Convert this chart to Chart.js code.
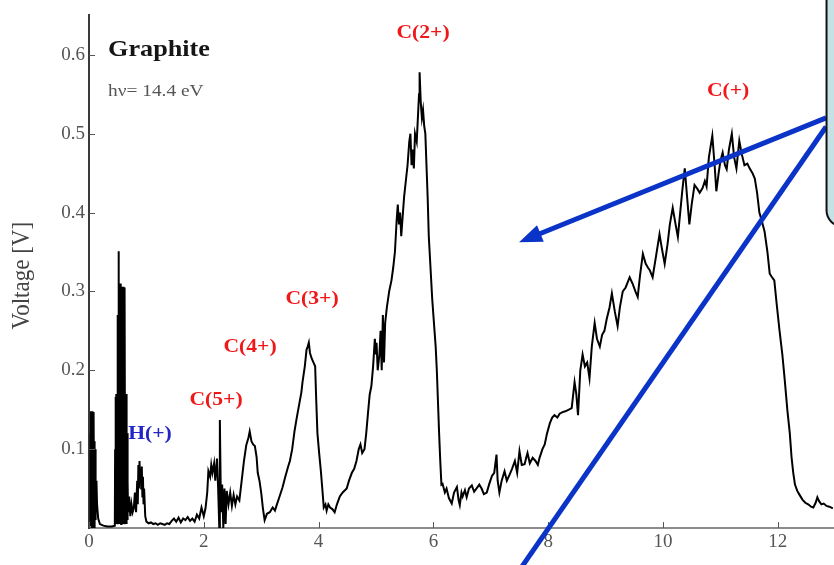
<!DOCTYPE html>
<html>
<head>
<meta charset="utf-8">
<script src="https://cdn.jsdelivr.net/npm/chart.js@4.4.1/dist/chart.umd.min.js"></script>
<style>
html,body{margin:0;padding:0;background:#fff;}
#c{display:block;}
</style>
</head>
<body>
<canvas id="c" width="834" height="565"></canvas>
<script>
// Time of flight (µs) and detector voltage (V)
const tof = [
0.00,0.02,0.025,0.03,0.035,0.04,0.045,0.05,0.055,0.06,0.065,0.07,0.075,0.08,0.085,0.09,0.095,0.10,0.105,0.11,0.115,0.12,0.13,0.14,0.16,0.19,0.25,0.32,0.40,0.45,
0.455,0.46,0.465,0.47,0.475,0.48,0.485,0.49,0.495,0.50,0.505,0.51,0.515,0.52,0.525,0.53,0.535,0.54,0.545,0.55,0.555,0.56,0.565,0.57,0.575,0.58,0.585,0.59,0.595,0.60,0.605,0.61,0.615,0.62,0.625,0.63,0.635,0.64,0.645,0.65,0.655,0.66,0.665,0.67,0.675,0.68,
0.70,0.72,0.74,0.76,0.78,0.80,0.82,0.84,0.85,0.86,0.87,0.88,0.89,0.90,0.91,0.92,0.93,0.94,0.95,0.96,0.98,1.00,
1.04,1.08,1.12,1.16,1.20,1.24,1.28,1.32,1.36,1.40,1.44,1.48,1.52,1.56,1.60,1.64,1.68,1.72,1.76,1.80,1.84,1.88,1.92,1.96,
2.00,2.03,2.06,2.08,2.11,2.13,2.15,2.18,2.20,2.23,2.25,2.27,2.28,2.30,2.32,2.34,2.36,2.38,2.40,2.43,2.46,2.49,2.52,2.55,2.58,2.62,2.66,2.70,2.74,2.78,2.80,2.83,2.86,2.89,2.92,2.94,2.97,
3.00,3.03,3.06,3.10,3.15,3.20,3.24,3.27,3.32,3.37,3.42,3.47,3.50,3.54,3.58,3.62,3.67,3.70,3.72,3.76,3.79,3.81,3.83,3.85,3.88,3.91,3.94,3.96,3.98,
4.01,4.04,4.07,4.09,4.12,4.14,4.17,4.20,4.24,4.28,4.32,4.37,4.42,4.49,4.53,4.58,4.62,4.66,4.70,4.73,4.76,4.80,4.83,4.86,4.89,4.92,4.95,4.98,
5.00,5.01,5.03,5.06,5.08,5.10,5.12,5.14,5.16,5.19,5.23,5.27,5.30,5.33,5.36,5.38,5.40,5.42,5.44,5.46,5.49,5.52,5.55,5.58,5.60,5.62,5.64,5.66,5.68,5.71,5.73,5.75,5.76,5.78,5.80,5.82,5.84,5.86,5.88,5.90,5.92,5.95,5.98,
6.01,6.04,6.06,6.08,6.10,6.12,6.14,6.16,6.20,6.23,6.27,6.32,6.36,6.41,6.44,6.46,6.49,6.51,6.55,6.58,6.62,6.67,6.71,6.75,6.80,6.84,6.88,6.93,6.97,
7.02,7.06,7.10,7.12,7.15,7.19,7.24,7.28,7.33,7.37,7.42,7.46,7.50,7.54,7.59,7.62,7.64,7.68,7.73,7.78,7.82,7.85,7.90,7.94,7.98,
8.03,8.07,8.11,8.16,8.20,8.25,8.30,8.36,8.41,8.46,8.49,8.52,8.56,8.60,8.64,8.68,8.72,8.76,8.81,8.85,8.90,8.94,8.98,
9.02,9.07,9.11,9.16,9.21,9.25,9.30,9.35,9.42,9.47,9.52,9.56,9.60,9.65,9.70,9.74,9.77,9.82,9.88,9.94,9.98,
10.03,10.08,10.12,10.17,10.22,10.26,10.30,10.34,10.38,10.42,10.46,10.50,10.55,10.60,10.64,10.69,10.73,10.76,10.80,10.86,10.90,10.93,10.97,
11.00,11.04,11.08,11.11,11.15,11.20,11.24,11.28,11.33,11.37,11.42,11.47,11.51,11.56,11.60,11.64,11.68,11.72,11.77,11.82,11.86,11.90,11.94,11.98,
12.03,12.08,12.12,12.17,12.21,12.24,12.27,12.30,12.34,12.38,12.43,12.48,12.53,12.58,12.62,12.66,12.69,12.72,12.76,12.80,12.85,12.90,12.96
];
const voltage = [
0.003,0.004,0.12,0.01,0.148,0.0,0.145,0.01,0.13,0.0,0.148,0.02,0.12,0.0,0.147,0.01,0.11,0.0,0.10,0.01,0.10,0.02,0.06,0.03,0.012,0.005,0.003,0.002,0.002,0.003,
0.10,0.005,0.166,0.01,0.17,0.005,0.168,0.01,0.27,0.005,0.268,0.01,0.351,0.005,0.30,0.01,0.31,0.005,0.306,0.01,0.31,0.005,0.306,0.01,0.305,0.005,0.306,0.01,0.30,0.005,0.306,0.01,0.305,0.005,0.30,0.01,0.17,0.005,0.168,0.01,0.17,0.005,0.12,0.01,0.06,0.02,
0.04,0.015,0.03,0.02,0.025,0.045,0.02,0.06,0.03,0.08,0.05,0.085,0.06,0.075,0.05,0.078,0.04,0.065,0.03,0.05,0.015,0.008,
0.006,0.007,0.005,0.006,0.004,0.006,0.005,0.004,0.006,0.005,0.009,0.012,0.008,0.013,0.007,0.012,0.010,0.014,0.009,0.012,0.008,0.017,0.012,0.026,
0.015,0.025,0.045,0.072,0.065,0.080,0.070,0.082,0.060,0.088,0.050,0.000,0.137,0.020,0.055,0.000,0.050,0.005,0.047,0.030,0.045,0.028,0.042,0.030,0.040,0.035,0.060,0.085,0.105,0.115,0.1225,0.110,0.106,0.104,0.090,0.070,0.060,
0.045,0.025,0.010,0.018,0.020,0.026,0.022,0.029,0.040,0.051,0.065,0.078,0.085,0.100,0.1225,0.140,0.160,0.172,0.185,0.205,0.226,0.230,0.235,0.222,0.215,0.210,0.205,0.160,0.120,
0.095,0.072,0.045,0.026,0.030,0.022,0.030,0.026,0.024,0.020,0.030,0.040,0.045,0.050,0.060,0.070,0.075,0.085,0.100,0.106,0.095,0.100,0.120,0.145,0.169,0.180,0.205,0.240,
0.220,0.235,0.200,0.220,0.250,0.200,0.270,0.210,0.260,0.280,0.300,0.314,0.330,0.350,0.390,0.410,0.385,0.400,0.370,0.390,0.420,0.440,0.460,0.490,0.500,0.460,0.480,0.456,0.500,0.490,0.520,0.550,0.578,0.540,0.520,0.530,0.510,0.500,0.460,0.420,0.370,0.330,0.290,
0.260,0.230,0.200,0.160,0.120,0.085,0.055,0.056,0.045,0.050,0.038,0.031,0.045,0.052,0.035,0.029,0.045,0.040,0.048,0.039,0.050,0.054,0.046,0.050,0.055,0.050,0.043,0.045,0.055,
0.066,0.070,0.093,0.060,0.045,0.060,0.072,0.060,0.068,0.075,0.085,0.070,0.0975,0.080,0.081,0.090,0.095,0.082,0.089,0.085,0.080,0.089,0.100,0.106,0.120,
0.133,0.140,0.143,0.140,0.145,0.147,0.148,0.150,0.152,0.185,0.170,0.143,0.200,0.220,0.205,0.210,0.190,0.230,0.260,0.240,0.230,0.245,0.250,
0.265,0.280,0.2975,0.275,0.256,0.280,0.300,0.305,0.318,0.310,0.300,0.293,0.320,0.3475,0.335,0.330,0.327,0.318,0.345,0.3725,0.355,
0.335,0.360,0.385,0.406,0.385,0.369,0.400,0.430,0.456,0.420,0.385,0.410,0.435,0.430,0.425,0.431,0.440,0.433,0.470,0.4975,0.460,0.427,0.450,
0.465,0.476,0.460,0.455,0.480,0.500,0.470,0.456,0.491,0.475,0.460,0.462,0.456,0.450,0.443,0.425,0.400,0.390,0.376,0.350,0.3225,0.318,0.314,0.285,
0.251,0.220,0.189,0.1475,0.120,0.090,0.070,0.055,0.047,0.042,0.036,0.032,0.030,0.027,0.026,0.032,0.039,0.034,0.030,0.031,0.028,0.027,0.025
];
const xTicks = [0,2,4,6,8,10,12];
const yTicks = [0.1,0.2,0.3,0.4,0.5,0.6];
const peakNames = ['H(+)','C(5+)','C(4+)','C(3+)','C(2+)','C(+)'];
const peakNameX = [1.063,2.213,2.805,3.886,5.82,11.135];
const peakNameY = [0.119,0.1625,0.229,0.29,0.627,0.554];
const peakNameColor = ['#2326c4','#f01818','#f01818','#f01818','#f01818','#f01818'];
const sampleName = 'Graphite';
const photonEnergy = 'h\u03BD= 14.4 eV';
const yTitle = 'Voltage [V]';

const STRETCH = 1.14;
function stretchedText(ctx, str, px, py, font, color, align, baseline){
  ctx.save();
  ctx.translate(px, py);
  ctx.scale(STRETCH, 1);
  ctx.font = font;
  ctx.fillStyle = color;
  ctx.textAlign = align;
  ctx.textBaseline = baseline;
  ctx.fillText(str, 0, 0);
  ctx.restore();
}

const overlay = {
  id: 'overlay',
  afterDraw(chart){
    const {ctx, chartArea, scales:{x, y}} = chart;
    ctx.save();
    // inward tick marks
    ctx.strokeStyle = '#555';
    ctx.lineWidth = 1;
    yTicks.forEach(v => {
      const py = Math.round(y.getPixelForValue(v)) + 0.5;
      ctx.beginPath(); ctx.moveTo(chartArea.left, py); ctx.lineTo(chartArea.left + 6, py); ctx.stroke();
    });
    xTicks.forEach(v => {
      const px = Math.round(x.getPixelForValue(v)) + 0.5;
      ctx.beginPath(); ctx.moveTo(px, chartArea.bottom); ctx.lineTo(px, chartArea.bottom - 6); ctx.stroke();
    });
    // y title
    ctx.save();
    ctx.translate(chartArea.left - 67, (chartArea.top + chartArea.bottom) / 2 + 4);
    ctx.rotate(-Math.PI / 2);
    ctx.scale(1, STRETCH);
    ctx.font = '23px "Liberation Serif"';
    ctx.fillStyle = '#444';
    ctx.textAlign = 'center';
    ctx.textBaseline = 'middle';
    ctx.fillText(yTitle, 0, 0);
    ctx.restore();
    // sample name and photon energy
    stretchedText(ctx, sampleName, x.getPixelForValue(0.331), y.getPixelForValue(0.599), 'bold 23px "Liberation Serif"', '#151515', 'left', 'alphabetic');
    stretchedText(ctx, photonEnergy, x.getPixelForValue(0.331), y.getPixelForValue(0.5475), '17px "Liberation Serif"', '#555', 'left', 'alphabetic');
    // peak labels
    peakNames.forEach((s, i) => {
      stretchedText(ctx, s, x.getPixelForValue(peakNameX[i]), y.getPixelForValue(peakNameY[i]), 'bold 19px "Liberation Serif"', peakNameColor[i], 'center', 'middle');
    });
    // blue pointer lines
    const blue = '#0a33c8';
    const sx = x.getPixelForValue(12.842);
    const s1y = y.getPixelForValue(0.52), s2y = y.getPixelForValue(0.50875);
    const tx = x.getPixelForValue(7.493), ty = y.getPixelForValue(0.3625);
    const ex = x.getPixelForValue(7.51), ey = y.getPixelForValue(-0.0525);
    ctx.strokeStyle = blue;
    ctx.fillStyle = blue;
    ctx.lineWidth = 5;
    const ang = Math.atan2(ty - s1y, tx - sx);
    const headLen = 23, headHalf = 9;
    const bx = tx - headLen * Math.cos(ang), by = ty - headLen * Math.sin(ang);
    ctx.beginPath(); ctx.moveTo(sx, s1y); ctx.lineTo(bx + 4*Math.cos(ang), by + 4*Math.sin(ang)); ctx.stroke();
    ctx.beginPath();
    ctx.moveTo(tx, ty);
    ctx.lineTo(bx + headHalf * Math.sin(ang), by - headHalf * Math.cos(ang));
    ctx.lineTo(bx - headHalf * Math.sin(ang), by + headHalf * Math.cos(ang));
    ctx.closePath(); ctx.fill();
    ctx.beginPath(); ctx.moveTo(sx, s2y); ctx.lineTo(ex, ey); ctx.stroke();
    // callout box
    const boxL = x.getPixelForValue(12.85), boxB = y.getPixelForValue(0.3825);
    ctx.beginPath();
    ctx.roundRect(boxL, -40, 200, boxB + 40, 16);
    ctx.fillStyle = '#c4e2e6';
    ctx.fill();
    ctx.strokeStyle = '#111';
    ctx.lineWidth = 2;
    ctx.stroke();
    ctx.restore();
  }
};

new Chart(document.getElementById('c'), {
  type: 'line',
  data: {
    datasets: [{
      data: tof.map((t, i) => ({x: t, y: voltage[i]})),
      borderColor: '#000',
      borderWidth: 2,
      pointRadius: 0,
      tension: 0,
      fill: false
    }]
  },
  options: {
    responsive: false,
    animation: false,
    devicePixelRatio: 1,
    layout: {padding: {top: 8, left: 0, right: 0, bottom: 0}},
    plugins: {legend: {display: false}, tooltip: {enabled: false}},
    scales: {
      x: {
        type: 'linear', min: 0, max: 12.98,
        afterBuildTicks: s => { s.ticks = xTicks.map(v => ({value: v})); },
        afterFit: s => { s.height = 37; },
        grid: {display: false, drawTicks: false},
        border: {display: true, color: '#8c8c8c', width: 2},
        ticks: {padding: 3, color: '#555', font: {family: 'Liberation Serif', size: 19}, maxRotation: 0, autoSkip: false, callback: v => String(v)}
      },
      y: {
        type: 'linear', min: 0, max: 0.65,
        afterBuildTicks: s => { s.ticks = yTicks.map(v => ({value: v})); },
        afterFit: s => { s.width = 89; },
        grid: {display: false, drawTicks: false},
        border: {display: true, color: '#3a3a3a', width: 2},
        ticks: {padding: 4, color: '#555', font: {family: 'Liberation Serif', size: 19}, autoSkip: false, callback: v => Number(v).toFixed(1)}
      }
    }
  },
  plugins: [overlay]
});
</script>
</body>
</html>
